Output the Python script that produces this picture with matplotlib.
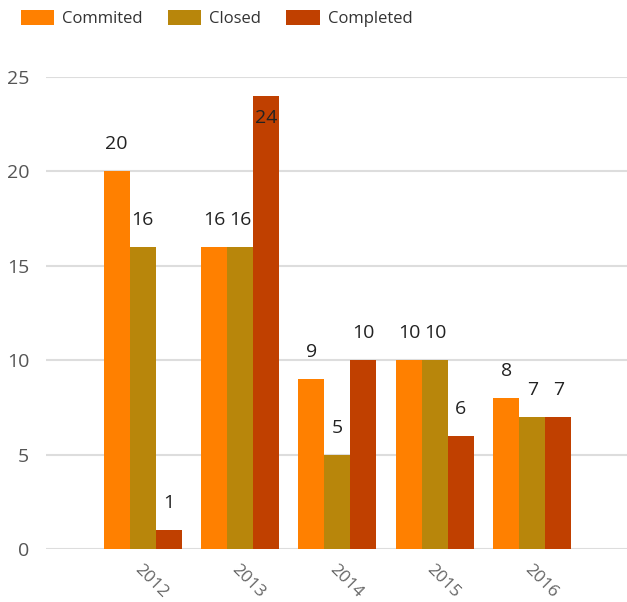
import matplotlib
matplotlib.use("Agg")
import matplotlib.pyplot as plt
import numpy as np

years = ["2012", "2013", "2014", "2015", "2016"]
commited = [20, 16, 9, 10, 8]
closed = [16, 16, 5, 10, 7]
completed = [1, 24, 10, 6, 7]
series_names = ["Commited", "Closed", "Completed"]
colors = ["#FF8000", "#B8860B", "#C04000"]
yticks = [0, 5, 10, 15, 20, 25]

plt.rcParams['font.family'] = ['Open Sans', 'DejaVu Sans']

fig = plt.figure(figsize=(6.27, 6.02), dpi=100)
ax = fig.add_axes([46/627, 53/602, 1 - 46/627, (549-76.7)/602])

x = np.arange(len(years))
w = 0.8 / 3
ymax = 25
for i, (name, vals, c) in enumerate(zip(series_names, [commited, closed, completed], colors)):
    xs = x + (i - 1) * w
    bars = ax.bar(xs, vals, width=w, color=c, label=name, zorder=3)
    for xi, v in zip(xs, vals):
        if v + 2.2 > ymax:
            ax.annotate(str(v), (xi, v), xytext=(0, -15.8), textcoords="offset points",
                        ha="center", va="center", fontsize=14, color="#222222", zorder=4)
        else:
            ax.annotate(str(v), (xi, v), xytext=(0, 19.4), textcoords="offset points",
                        ha="center", va="center", fontsize=14, color="#222222", zorder=4)

ax.set_xlim(-0.99, 4.97)
ax.set_ylim(0, ymax)
ax.set_yticks(yticks)
ax.set_yticklabels([str(t) for t in yticks], fontsize=14, color="#555555")
ax.set_xticks(x)
ax.set_xticklabels(years, fontsize=12.5, color="#666666", rotation=-45,
                   ha="left", rotation_mode="anchor")
ax.tick_params(axis="both", length=0)
ax.tick_params(axis="y", pad=12)
ax.tick_params(axis="x", pad=9)
for s in ax.spines.values():
    s.set_visible(False)
ax.yaxis.grid(True, color="#DDDDDD", linewidth=1.5, zorder=0)
ax.set_axisbelow(True)

fig.legend(loc="upper left", bbox_to_anchor=(14/627, 1 - 3/602), ncol=3, frameon=False,
           fontsize=12, handlelength=2.0, handleheight=1.05, handletextpad=0.5,
           columnspacing=1.5, borderaxespad=0.0, labelcolor="#333333")

fig.savefig("out.png", dpi=100)
